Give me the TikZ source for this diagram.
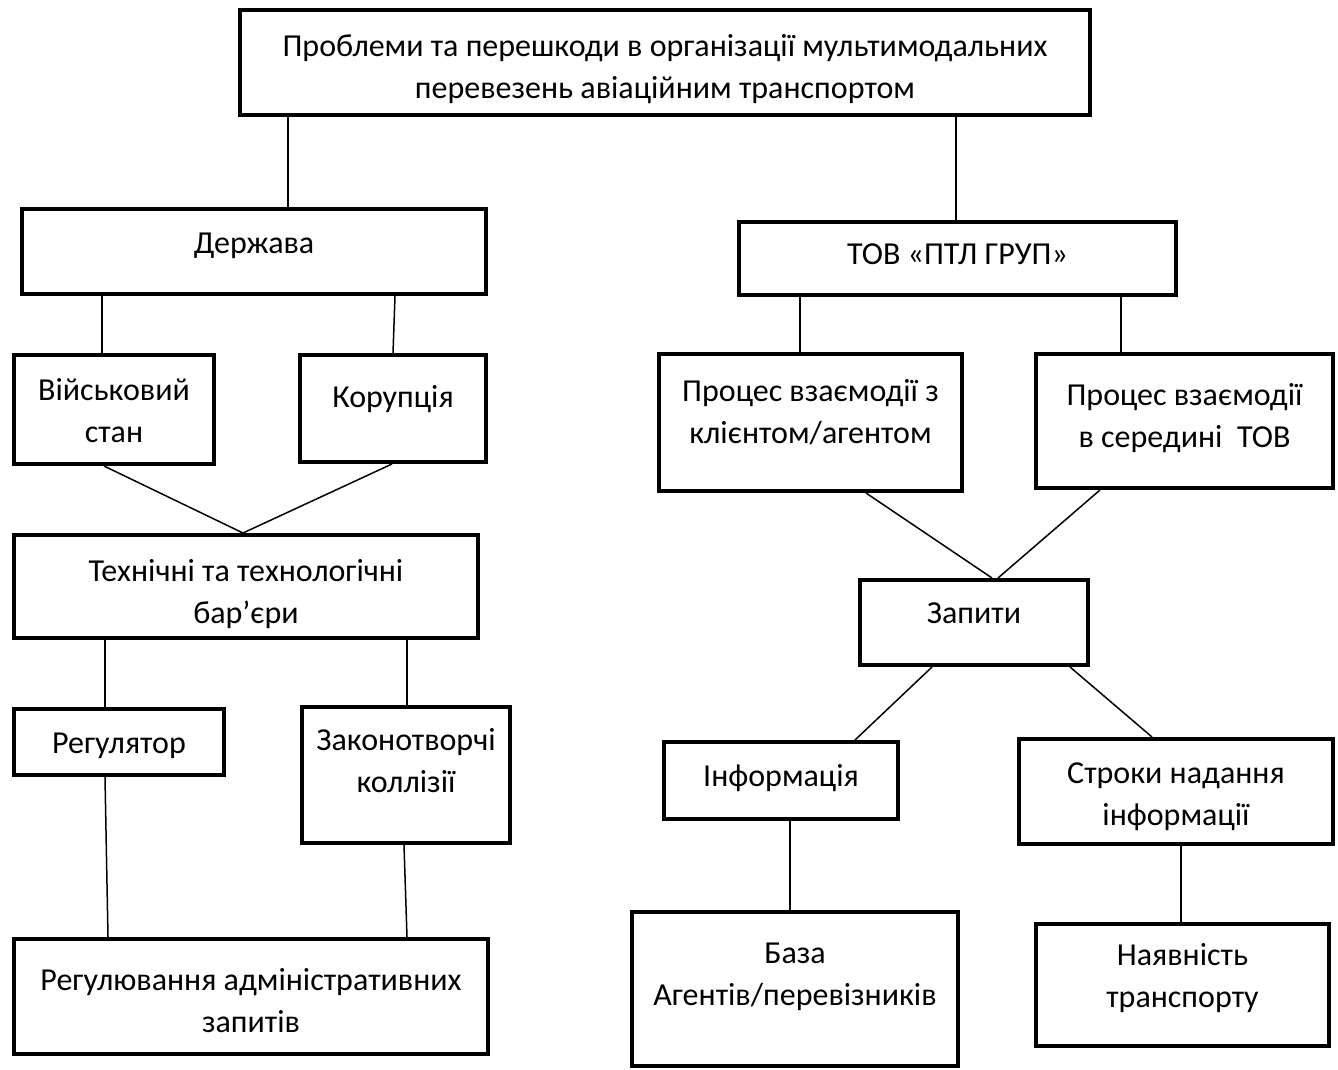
\documentclass[tikz,border=0pt]{standalone}
\usepackage{fontspec}
\setmainfont{Carlito}
\begin{document}
\begin{tikzpicture}[x=0.5pt,y=-0.5pt,thick,
    main node/.style={rectangle,draw,line width=2pt,align=center,inner sep=0pt,font=\fontsize{16pt}{21pt}\selectfont},
    lift/.style={text height=0pt,text depth=#1pt},
    drop/.style={text height=#1pt,text depth=0pt}]
                \useasboundingbox (0,0) rectangle (1338,1070);
                \node[main node,drop=36.5,minimum width=425pt,minimum height=52.5pt] (top) at (665,62.5) {Проблеми та перешкоди в організації мультимодальних\\перевезень авіаційним транспортом};
                \node[main node,drop=1.5,minimum width=232pt,minimum height=42.5pt] (derzh) at (254,251.5) {Держава};
                \node[main node,drop=5.5,minimum width=218.5pt,minimum height=36.5pt] (tov) at (957.5,258.5) {ТОВ «ПТЛ ГРУП»};
                \node[main node,drop=32.5,minimum width=100pt,minimum height=54.5pt] (viysk) at (114,409.5) {Військовий\\стан};
                \node[main node,lift=1.5,minimum width=93pt,minimum height=53.5pt] (korup) at (393,408.5) {Корупція};
                \node[main node,drop=20.5,minimum width=151.5pt,minimum height=68.5pt] (proc1) at (810.5,422.5) {Процес взаємодії з\\клієнтом/агентом};
                \node[main node,drop=26,minimum width=148.5pt,minimum height=67pt] (proc2) at (1184.5,421) {Процес взаємодії\\в середині~~ТОВ};
                \node[main node,drop=36.5,minimum width=232pt,minimum height=51.5pt] (tekhn) at (246,586.5) {Технічні та технологічні\\бар’єри};
                \node[main node,drop=0.5,minimum width=114pt,minimum height=42.5pt] (zapyty) at (974,622.5) {Запити};
                \node[main node,drop=11,minimum width=105pt,minimum height=33pt] (regul) at (119,742) {Регулятор};
                \node[main node,drop=17,minimum width=104pt,minimum height=68pt] (zakon) at (406,775) {Законотворчі\\коллізії};
                \node[main node,drop=5.5,minimum width=117pt,minimum height=38.5pt] (inform) at (781,780.5) {Інформація};
                \node[main node,drop=33.5,minimum width=157pt,minimum height=52.5pt] (stroky) at (1176,791.5) {Строки надання\\інформації};
                \node[main node,drop=35.5,minimum width=237pt,minimum height=57.5pt] (regadm) at (251,996.5) {Регулювання адміністративних\\запитів};
                \node[main node,drop=16,minimum width=163pt,minimum height=77pt] (baza) at (795,989) {База\\Агентів/перевізників};
                \node[main node,drop=22,minimum width=146.5pt,minimum height=61pt] (nayav) at (1182.5,985) {Наявність\\транспорту};

                \path[draw,line width=0.75pt]
                    (top.south -| 288,0) edge (derzh.north -| 288,0)
                    (top.south -| 956,0) edge (tov.north -| 956,0)
                    (derzh.south -| 102,0) edge (viysk.north -| 102,0)
                    (derzh.south -| 395,0) edge (korup.north -| 393,0)
                    (tov.south -| 800,0) edge (proc1.north -| 800,0)
                    (tov.south -| 1121,0) edge (proc2.north -| 1121,0)
                    (viysk.south -| 104,0) edge (tekhn.north -| 243,0)
                    (korup.south -| 392,0) edge (tekhn.north -| 243,0)
                    (proc1.south -| 866,0) edge (zapyty.north -| 992,0)
                    (proc2.south -| 1100,0) edge (zapyty.north -| 998,0)
                    (tekhn.south -| 105,0) edge (regul.north -| 105,0)
                    (tekhn.south -| 407,0) edge (zakon.north -| 407,0)
                    (zapyty.south -| 932,0) edge (inform.north -| 855,0)
                    (zapyty.south -| 1070,0) edge (stroky.north -| 1152,0)
                    (regul.south -| 105,0) edge (regadm.north -| 108,0)
                    (zakon.south -| 404,0) edge (regadm.north -| 407,0)
                    (inform.south -| 790,0) edge (baza.north -| 790,0)
                    (stroky.south -| 1181,0) edge (nayav.north -| 1181,0)
                    ;
            \end{tikzpicture}
\end{document}
